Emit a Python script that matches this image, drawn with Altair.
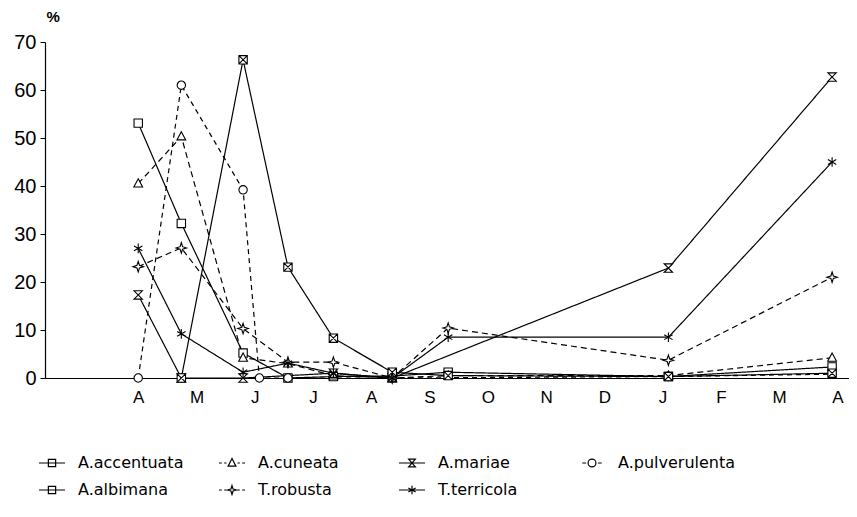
import json
import altair as alt
import pandas as pd

# ---------------- data ----------------
MONTH_LABELS = ["A", "M", "J", "J", "A", "S", "O", "N", "D", "J", "F", "M", "A"]
SAMPLE_DATES = [0.0, 0.74, 1.80, 2.08, 2.57, 3.35, 4.36, 5.32, 9.10, 11.91]
SPECIES = ["A.accentuata", "A.cuneata", "A.mariae", "A.pulverulenta",
           "A.albimana", "T.robusta", "T.terricola"]
# legend entries are laid out column by column (2 rows x 4 columns)
LEGEND_ORDER = ["A.accentuata", "A.albimana", "A.cuneata", "T.robusta",
                "A.mariae", "T.terricola", "A.pulverulenta"]

accentuata   = [53.1, 32.2, 5.2, None, 0.0, 0.3, 0.4, 1.2, 0.3, 2.3]
cuneata      = [40.5, 50.3, 4.2, None, 3.0, 0.5, 0.0, 0.5, 0.5, 4.2]
mariae       = [17.3, 0.0, 0.0, None, None, 1.0, 0.0, None, 22.9, 62.7]
pulverulenta = [0.0, 61.0, 39.2, 0.0, 0.0, None, 0.0, None, 0.3, 0.8]
albimana     = [None, 0.0, 66.3, None, 23.1, 8.3, 1.2, 0.5, 0.3, 1.0]
robusta      = [23.2, 27.1, 10.3, None, 3.3, 3.3, 0.0, 10.4, 3.7, 21.0]
terricola    = [27.0, 9.2, 1.2, None, 3.1, 1.0, 0.0, 8.5, 8.5, 45.0]
SERIES = [accentuata, cuneata, mariae, pulverulenta, albimana, robusta, terricola]

# ---------------- styles ----------------
DASHES = [[1, 0], [6, 4], [1, 0], [5, 4], [1, 0], [6, 4], [1, 0]]
POINT_SHAPES = [
    "M-1,-1H1V1H-1Z",
    "M0,-1.15L1.05,0.8H-1.05Z",
    "M-1,-1H1L-1,1H1Z",
    "M-1,0A1,1 0 1,1 1,0A1,1 0 1,1 -1,0Z",
    "M-1,-1H1V1H-1ZM-1,-1L1,1M1,-1L-1,1",
    "M0,-1.25L0.3,-0.3L1.25,0L0.3,0.3L0,1.25L-0.3,0.3L-1.25,0L-0.3,-0.3Z",
    "M0,-1.15V1.15M-1,-0.58L1,0.58M-1,0.58L1,-0.58",
]
SOLID = "M-1,0H1"
DASHED = "M-1,0H-0.78M-0.6,0H-0.42M0.42,0H0.6M0.78,0H1"
LEGEND_SHAPE_BY_SPECIES = {
    "A.accentuata": SOLID + "M-0.28,-0.28H0.28V0.28H-0.28Z",
    "A.cuneata": DASHED + "M0,-0.34L0.3,0.24H-0.3Z",
    "A.mariae": SOLID + "M-0.26,-0.3H0.26L-0.26,0.3H0.26Z",
    "A.pulverulenta": "M-0.75,0H-0.45M0.45,0H0.75M-0.3,0A0.3,0.3 0 1,1 0.3,0A0.3,0.3 0 1,1 -0.3,0Z",
    "A.albimana": SOLID + "M-0.28,-0.28H0.28V0.28H-0.28Z",
    "T.robusta": DASHED + "M0,-0.34L0.08,-0.08L0.34,0L0.08,0.08L0,0.34L-0.08,0.08L-0.34,0L-0.08,-0.08Z",
    "T.terricola": SOLID + "M0,-0.32V0.32M-0.28,-0.16L0.28,0.16M-0.28,0.16L0.28,-0.16",
}
LEGEND_SHAPES = [LEGEND_SHAPE_BY_SPECIES[s] for s in LEGEND_ORDER]

rows = []
for name, vals in zip(SPECIES, SERIES):
    for d, v in zip(SAMPLE_DATES, vals):
        if v is not None:
            rows.append({"species": name, "species_legend": name, "month": d, "pct": v})
df = pd.DataFrame(rows)

label_expr = json.dumps(MONTH_LABELS) + "[datum.value]"

x_enc = alt.X(
    "month:Q",
    scale=alt.Scale(domain=[-1.6, 12.2], nice=False, zero=False),
    axis=alt.Axis(values=list(range(len(MONTH_LABELS))), labelExpr=label_expr,
                  ticks=False, grid=False, labelFontSize=17, labelPadding=11,
                  domainColor="black", domainWidth=1.2, labelColor="black", title=""),
)
y_enc = alt.Y(
    "pct:Q",
    scale=alt.Scale(domain=[0, 70], nice=False),
    axis=alt.Axis(values=[0, 10, 20, 30, 40, 50, 60, 70], grid=False, tickSize=5,
                  tickColor="black", domainColor="black", domainWidth=1.2,
                  labelFontSize=20, labelColor="black", labelPadding=4,
                  title="%", titleAngle=0, titleAlign="left", titleBaseline="bottom",
                  titleX=1, titleY=-18, titleFontSize=15, titleFontWeight="bold"),
)

base = alt.Chart(df)

lines = base.mark_line(color="black", strokeWidth=1.2).encode(
    x=x_enc, y=y_enc, detail="species:N",
    strokeDash=alt.StrokeDash("species:N", scale=alt.Scale(domain=SPECIES, range=DASHES), legend=None),
)

points = base.mark_point(filled=True, fill="white", stroke="black", strokeWidth=1.1, size=70, opacity=1).encode(
    x=x_enc, y=y_enc,
    shape=alt.Shape("species:N", scale=alt.Scale(domain=SPECIES, range=POINT_SHAPES), legend=None),
)

legend_layer = base.mark_point(opacity=0, color="black").encode(
    x=x_enc, y=y_enc,
    shape=alt.Shape(
        "species_legend:N",
        scale=alt.Scale(domain=LEGEND_ORDER, range=LEGEND_SHAPES),
        legend=alt.Legend(title="", orient="none", legendX=-7, legendY=407, columns=4,
                          gridAlign="all",
                          symbolSize=676, symbolStrokeColor="black", symbolFillColor="white",
                          symbolStrokeWidth=1.2, symbolOpacity=1,
                          labelFont="DejaVu Sans", labelFontSize=16,
                          labelColor="black", labelOffset=12, columnPadding=20, rowPadding=5,
                          labelLimit=220),
    ),
)

chart = alt.layer(lines, points, legend_layer).resolve_scale(shape="independent").properties(
    width=804, height=336,
    autosize=alt.AutoSizeParams(type="none"),
    padding={"left": 37, "top": 34, "right": 0, "bottom": 125},
).configure(font="Liberation Sans").configure_view(strokeWidth=0)

chart.save("out.html", embed_options={"renderer": "svg", "actions": False})
